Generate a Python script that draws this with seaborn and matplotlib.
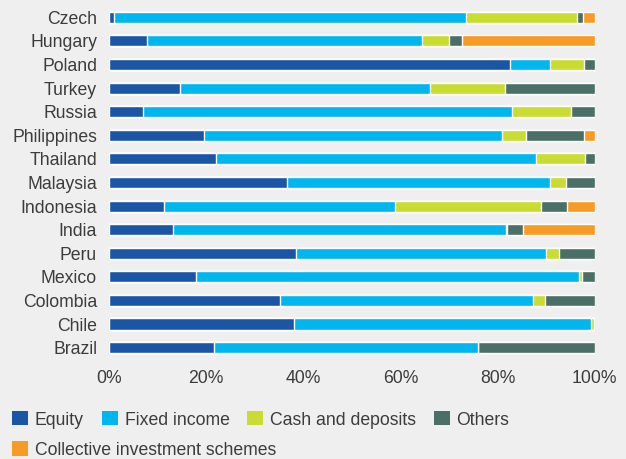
import pandas as pd
import matplotlib.pyplot as plt
import seaborn as sns
from matplotlib.patches import Patch


countries = ['Czech', 'Hungary', 'Poland', 'Turkey', 'Russia', 'Philippines', 'Thailand',
             'Malaysia', 'Indonesia', 'India', 'Peru', 'Mexico', 'Colombia', 'Chile', 'Brazil']

# shares in %
equity = [1.0, 7.8, 82.5, 14.6, 7.0, 19.5, 22.0, 36.6, 11.3, 13.2, 38.5, 17.9, 35.2, 38.1, 21.6]
fixed_income = [72.5, 56.6, 8.2, 51.4, 75.9, 61.4, 65.9, 54.3, 47.5, 68.5, 51.4, 78.8, 52.2, 61.1, 54.3]
cash = [22.8, 5.6, 7.2, 15.5, 12.2, 4.9, 10.2, 3.1, 30.1, 0.2, 2.7, 0.6, 2.3, 0.6, 0.0]
others = [1.2, 2.6, 2.1, 18.5, 4.9, 11.9, 1.9, 6.0, 5.5, 3.3, 7.4, 2.7, 10.3, 0.2, 24.1]
collective = [2.5, 27.4, 0.0, 0.0, 0.0, 2.3, 0.0, 0.0, 5.6, 14.8, 0.0, 0.0, 0.0, 0.0, 0.0]

labels = ['Equity', 'Fixed income', 'Cash and deposits', 'Others', 'Collective investment schemes']
colors = ['#1b56a6', '#00b6ef', '#c9dc32', '#4a6f67', '#f79b24']

sns.set_theme(style='white')
plt.rcParams['font.family'] = ['Liberation Sans', 'DejaVu Sans']
fs = 12.7
txt_col = '#3c3c3c'

df = pd.DataFrame({'country': countries, 'Equity': equity, 'Fixed income': fixed_income,
                   'Cash and deposits': cash, 'Others': others,
                   'Collective investment schemes': collective})
cum = df[labels].cumsum(axis=1)

fig, ax = plt.subplots(figsize=(6.26, 4.59), dpi=100)
fig.patch.set_facecolor('#efefef')
ax.set_facecolor('#efefef')

# draw from the total down so each layer covers the one before
for lab, col in reversed(list(zip(labels, colors))):
    sns.barplot(x=cum[lab], y=df['country'], color=col, width=0.47,
                orient='h', ax=ax, saturation=1)

ax.set_xlim(0, 100)
ax.set_ylim(14.5, -0.5)
ax.set_xticks([0, 20, 40, 60, 80, 100])
ax.set_xticklabels(['0%', '20%', '40%', '60%', '80%', '100%'])
ax.set_xlabel('')
ax.set_ylabel('')
ax.tick_params(axis='both', length=0, labelsize=fs, colors=txt_col)
ax.tick_params(axis='x', pad=7.5)
ax.tick_params(axis='y', pad=8.5)
sns.despine(ax=ax, left=True, bottom=True)

plt.subplots_adjust(left=0.174, right=0.950, top=0.988, bottom=0.217)

handles = [Patch(facecolor=c, edgecolor='none') for c in colors]
leg_kw = dict(loc='center left', frameon=False, fontsize=fs, handlelength=0.9,
              handleheight=0.85, handletextpad=0.4, labelcolor=txt_col, borderaxespad=0)
fig.legend(handles[:4], labels[:4], ncol=4, columnspacing=1.0,
           bbox_to_anchor=(0.008, 0.085), **leg_kw)
fig.legend(handles[4:], labels[4:], bbox_to_anchor=(0.008, 0.0196), **leg_kw)

plt.savefig('out.png', dpi=100, facecolor=fig.get_facecolor())
